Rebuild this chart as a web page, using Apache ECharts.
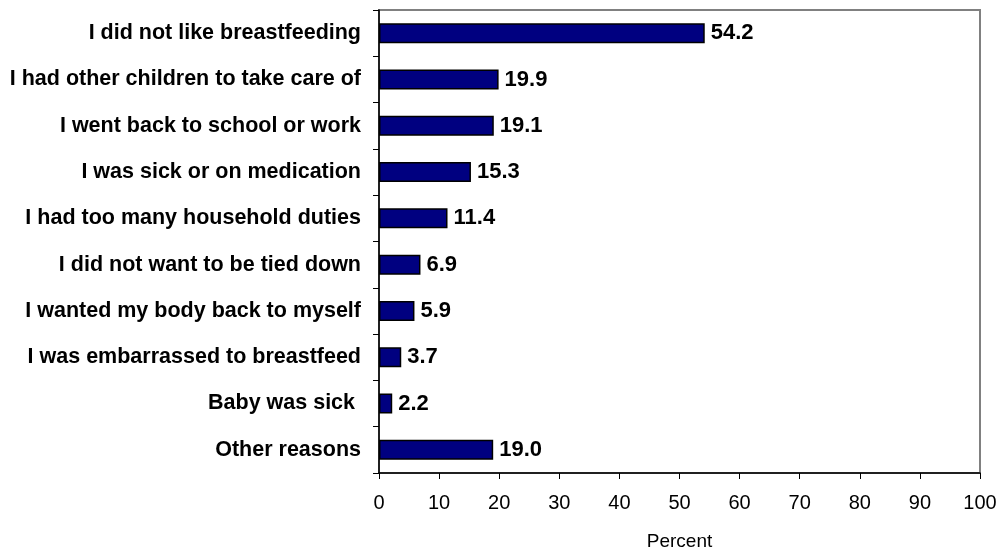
<!DOCTYPE html>
<html>
<head>
<meta charset="utf-8">
<script src="https://cdn.jsdelivr.net/npm/echarts@6/dist/echarts.min.js"></script>
<style>html,body{margin:0;padding:0;background:#fff}#c{width:1003px;height:553px}</style>
</head>
<body>
<div id="c"></div>
<script>
const categories = [
  "I did not like breastfeeding",
  "I had other children to take care of",
  "I went back to school or work",
  "I was sick or on medication",
  "I had too many household duties",
  "I did not want to be tied down",
  "I wanted my body back to myself",
  "I was embarrassed to breastfeed",
  "Baby was sick ",
  "Other reasons"
];
const percentValues = [54.2, 19.9, 19.1, 15.3, 11.4, 6.9, 5.9, 3.7, 2.2, 19.0];
const xTicks = [0, 10, 20, 30, 40, 50, 60, 70, 80, 90, 100];

const chart = echarts.init(document.getElementById('c'), null, {renderer: 'canvas'});
chart.setOption({
  animation: false,
  backgroundColor: '#ffffff',
  grid: {
    left: 379, right: 23, top: 10, bottom: 80,
    containLabel: false, outerBoundsMode: 'none',
    show: true, borderColor: '#808080', borderWidth: 2, backgroundColor: 'transparent'
  },
  xAxis: {
    type: 'value',
    min: xTicks[0], max: xTicks[xTicks.length - 1], interval: 10,
    name: 'Percent', nameLocation: 'middle', nameGap: 59,
    nameTextStyle: {fontFamily: 'Liberation Sans, Arial', fontSize: 19, color: '#000'},
    axisLine: {show: true, lineStyle: {color: '#000', width: 1.5}},
    axisTick: {show: true, length: 6, lineStyle: {color: '#000'}},
    axisLabel: {fontFamily: 'Liberation Sans, Arial', fontSize: 20, color: '#000', margin: 20},
    splitLine: {show: false}
  },
  yAxis: {
    type: 'category',
    data: categories,
    inverse: true,
    axisLine: {show: true, lineStyle: {color: '#000', width: 1.5}},
    axisTick: {show: true, length: 6, lineStyle: {color: '#000'}},
    axisLabel: {fontFamily: 'Liberation Sans, Arial', fontSize: 21.5, fontWeight: 'bold', color: '#000', margin: 18}
  },
  series: [{
    type: 'bar',
    data: percentValues,
    barWidth: 20,
    itemStyle: {color: '#000080', borderColor: '#000', borderWidth: 1.5},
    label: {
      show: true, position: 'right', distance: 6,
      fontFamily: 'Liberation Sans, Arial', fontSize: 22, fontWeight: 'bold', color: '#000',
      formatter: p => p.value.toFixed(1)
    }
  }]
});
</script>
</body>
</html>
